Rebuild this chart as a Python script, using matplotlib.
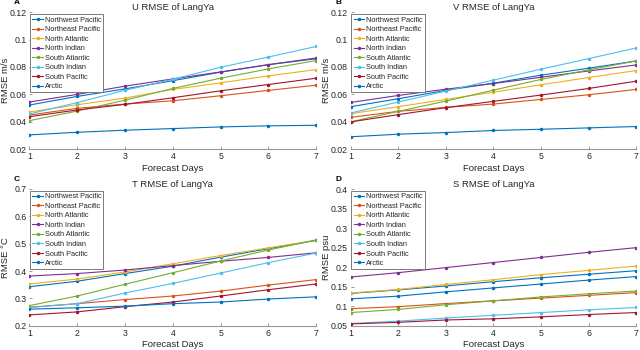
"""RMSE of LangYa per ocean basin, four panels."""

import matplotlib

matplotlib.use("Agg")
import matplotlib.pyplot as plt
from matplotlib.ticker import FormatStrFormatter

plt.rcParams["font.family"] = ["Liberation Sans", "DejaVu Sans"]

days = [1, 2, 3, 4, 5, 6, 7]
regions = [
    "Northwest Pacific",
    "Northeast Pacific",
    "North Atlantic",
    "North Indian",
    "South Atlantic",
    "South Indian",
    "South Pacific",
    "Arctic",
]
colors = ["#0072BD", "#D95319", "#EDB120", "#7E2F8E", "#77AC30", "#4DBEEE", "#A2142F", "#0072BD"]

# rows follow the order of `regions`
u_rmse = [
    [0.0522, 0.0585, 0.0640, 0.0700, 0.0762, 0.0817, 0.0860],
    [0.0449, 0.0498, 0.0529, 0.0553, 0.0590, 0.0629, 0.0667],
    [0.0471, 0.0524, 0.0573, 0.0636, 0.0684, 0.0735, 0.0781],
    [0.0544, 0.0600, 0.0660, 0.0713, 0.0764, 0.0817, 0.0866],
    [0.0408, 0.0478, 0.0558, 0.0643, 0.0718, 0.0786, 0.0847],
    [0.0457, 0.0540, 0.0630, 0.0710, 0.0798, 0.0873, 0.0950],
    [0.0437, 0.0486, 0.0527, 0.0575, 0.0626, 0.0672, 0.0718],
    [0.0304, 0.0323, 0.0338, 0.0350, 0.0362, 0.0370, 0.0374],
]
v_rmse = [
    [0.0510, 0.0568, 0.0629, 0.0682, 0.0740, 0.0791, 0.0844],
    [0.0432, 0.0476, 0.0505, 0.0529, 0.0563, 0.0597, 0.0636],
    [0.0459, 0.0510, 0.0563, 0.0616, 0.0670, 0.0723, 0.0774],
    [0.0541, 0.0592, 0.0638, 0.0679, 0.0725, 0.0771, 0.0815],
    [0.0399, 0.0476, 0.0551, 0.0631, 0.0709, 0.0779, 0.0844],
    [0.0464, 0.0544, 0.0624, 0.0704, 0.0784, 0.0861, 0.0939],
    [0.0399, 0.0452, 0.0503, 0.0549, 0.0595, 0.0643, 0.0696],
    [0.0290, 0.0309, 0.0321, 0.0336, 0.0345, 0.0355, 0.0365],
]
t_rmse = [
    [0.343, 0.363, 0.391, 0.418, 0.451, 0.482, 0.512],
    [0.268, 0.281, 0.296, 0.309, 0.327, 0.349, 0.369],
    [0.353, 0.371, 0.397, 0.427, 0.457, 0.485, 0.513],
    [0.382, 0.391, 0.404, 0.420, 0.436, 0.450, 0.467],
    [0.274, 0.309, 0.352, 0.394, 0.437, 0.477, 0.514],
    [0.267, 0.281, 0.320, 0.355, 0.393, 0.431, 0.466],
    [0.240, 0.251, 0.270, 0.287, 0.309, 0.332, 0.353],
    [0.261, 0.266, 0.272, 0.281, 0.287, 0.298, 0.306],
]
s_rmse = [
    [0.133, 0.142, 0.152, 0.163, 0.173, 0.182, 0.191],
    [0.094, 0.099, 0.107, 0.114, 0.121, 0.128, 0.135],
    [0.134, 0.143, 0.156, 0.168, 0.181, 0.192, 0.203],
    [0.175, 0.186, 0.199, 0.212, 0.225, 0.238, 0.250],
    [0.084, 0.092, 0.104, 0.114, 0.124, 0.132, 0.139],
    [0.056, 0.062, 0.070, 0.077, 0.084, 0.091, 0.097],
    [0.055, 0.059, 0.065, 0.068, 0.073, 0.079, 0.084],
    [0.119, 0.126, 0.137, 0.147, 0.157, 0.167, 0.176],
]

panels = [
    ("A", "U RMSE of LangYa", "RMSE m/s", u_rmse, (0.02, 0.12), [0.02, 0.04, 0.06, 0.08, 0.10, 0.12]),
    ("B", "V RMSE of LangYa", "RMSE m/s", v_rmse, (0.02, 0.12), [0.02, 0.04, 0.06, 0.08, 0.10, 0.12]),
    ("C", "T RMSE of LangYa", "RMSE \u00b0C", t_rmse, (0.2, 0.7), [0.2, 0.3, 0.4, 0.5, 0.6, 0.7]),
    ("D", "S RMSE of LangYa", "RMSE psu", s_rmse, (0.05, 0.4), [0.05, 0.1, 0.15, 0.2, 0.25, 0.3, 0.35, 0.4]),
]
boxes = [
    [0.046, 0.574, 0.448, 0.391],
    [0.548, 0.574, 0.446, 0.391],
    [0.046, 0.069, 0.448, 0.391],
    [0.548, 0.069, 0.446, 0.391],
]

text_color = "#262626"
fig = plt.figure(figsize=(6.4, 3.5), dpi=100)

for (letter, title, ylabel, data, ylim, yticks), box in zip(panels, boxes):
    ax = fig.add_axes(box)
    for name, color, vals in zip(regions, colors, data):
        ax.plot(days, vals, color=color, lw=0.8, marker=".", ms=3, label=name)
    ax.set_xlim(1, 7)
    ax.set_ylim(*ylim)
    ax.set_xticks(days)
    ax.set_yticks(yticks)
    ax.yaxis.set_major_formatter(FormatStrFormatter("%g"))
    for side in ("top", "right", "left"):
        ax.spines[side].set_visible(False)
    ax.spines["bottom"].set_color("#999999")
    ax.spines["bottom"].set_linewidth(0.8)
    ax.tick_params(direction="in", length=2.5, width=0.6, color="#888888",
                   labelsize=6.3, labelcolor=text_color, pad=2)
    ax.set_title(title, fontsize=6.8, color=text_color, pad=1.5)
    ax.set_xlabel("Forecast Days", fontsize=6.8, color=text_color, labelpad=2)
    ax.set_ylabel(ylabel, fontsize=6.8, color=text_color)
    ax.yaxis.set_label_coords(-0.068, 0.5)
    ax.text(-0.044, 1.068, letter, transform=ax.transAxes, fontsize=6,
            fontweight="bold", color="black", ha="center", va="center")
    leg = ax.legend(loc="upper left", bbox_to_anchor=(0.0, 0.99), fontsize=5.3,
                    frameon=True, fancybox=False, framealpha=1.0,
                    edgecolor="#666666", handlelength=1.4, handletextpad=0.25,
                    labelspacing=0.32, borderpad=0.3, borderaxespad=0.1)
    leg.get_frame().set_linewidth(0.6)
    for txt in leg.get_texts():
        txt.set_color(text_color)

fig.savefig("out.png", dpi=100)
